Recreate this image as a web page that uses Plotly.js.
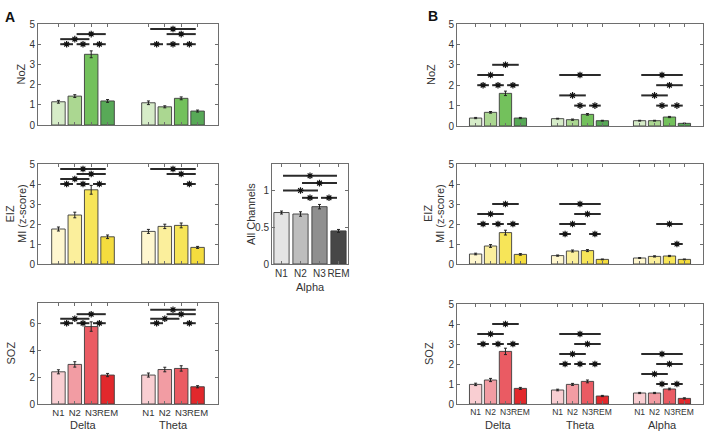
<!DOCTYPE html>
<html>
<head>
<meta charset="utf-8">
<script src="https://cdn.plot.ly/plotly-3.0.1.min.js"></script>
<style>html,body{margin:0;padding:0;background:#fff;}#chart{width:708px;height:433px;}</style>
</head>
<body>
<div id="chart"></div>
<script>
// ---------- DATA ----------
const STAGES = ["N1", "N2", "N3", "REM"];
const A_BANDS = ["Delta", "Theta"];
const B_BANDS = ["Delta", "Theta", "Alpha"];

// Panel A (rows: band, cols: stage)
const aNoZ    = [[1.15, 1.43, 3.50, 1.19], [1.10, 0.90, 1.32, 0.69]];
const aNoZErr = [[0.07, 0.07, 0.17, 0.07], [0.09, 0.05, 0.07, 0.05]];
const aEIZ    = [[1.75, 2.45, 3.71, 1.36], [1.63, 1.88, 1.93, 0.83]];
const aEIZErr = [[0.10, 0.14, 0.22, 0.09], [0.10, 0.11, 0.12, 0.05]];
const aSOZ    = [[2.39, 2.94, 5.75, 2.15], [2.15, 2.56, 2.64, 1.28]];
const aSOZErr = [[0.15, 0.20, 0.35, 0.12], [0.15, 0.17, 0.20, 0.08]];

// All channels, alpha
const allAlpha    = [0.70, 0.68, 0.78, 0.45];
const allAlphaErr = [0.02, 0.03, 0.03, 0.02];

// Panel B
const bNoZ    = [[0.39, 0.67, 1.60, 0.39], [0.36, 0.31, 0.57, 0.26], [0.26, 0.26, 0.44, 0.13]];
const bNoZErr = [[0.03, 0.04, 0.11, 0.03], [0.02, 0.03, 0.04, 0.02], [0.02, 0.02, 0.03, 0.01]];
const bEIZ    = [[0.50, 0.90, 1.57, 0.48], [0.42, 0.65, 0.67, 0.23], [0.30, 0.38, 0.40, 0.23]];
const bEIZErr = [[0.04, 0.07, 0.12, 0.04], [0.03, 0.05, 0.05, 0.02], [0.02, 0.03, 0.03, 0.02]];
const bSOZ    = [[0.98, 1.20, 2.63, 0.78], [0.70, 0.98, 1.13, 0.40], [0.55, 0.55, 0.75, 0.28]];
const bSOZErr = [[0.06, 0.08, 0.16, 0.05], [0.04, 0.05, 0.07, 0.03], [0.03, 0.03, 0.04, 0.03]];

// Significance comparisons: [band, stageFrom, stageTo, level]
const aNoZSig = [[0,0,1,4],[0,1,2,4],[0,2,3,4],[0,0,2,4.25],[0,1,3,4.5],
                 [1,0,1,4],[1,1,2,4],[1,2,3,4],[1,1,3,4.5],[1,0,3,4.75]];
const aEIZSig = [[0,0,1,4],[0,1,2,4],[0,2,3,4],[0,0,2,4.25],[0,1,3,4.5],[0,0,3,4.75],
                 [1,2,3,4],[1,1,3,4.5],[1,0,3,4.75]];
const aSOZSig = [[0,0,1,6],[0,1,2,6],[0,2,3,6],[0,0,2,6.33],[0,1,3,6.67],
                 [1,0,1,6],[1,2,3,6],[1,0,2,6.33],[1,1,3,6.67],[1,0,3,7]];
const allSig  = [[0,1,2,0.9],[0,2,3,0.9],[0,0,2,1.0],[0,1,3,1.1],[0,0,3,1.2]];
const bNoZSig = [[0,0,1,2],[0,1,2,2],[0,2,3,2],[0,0,2,2.5],[0,1,3,3],
                 [1,1,2,1],[1,2,3,1],[1,0,2,1.5],[1,0,3,2.5],
                 [2,1,2,1],[2,2,3,1],[2,0,2,1.5],[2,1,3,2],[2,0,3,2.5]];
const bEIZSig = [[0,0,1,2],[0,1,2,2],[0,2,3,2],[0,0,2,2.5],[0,1,3,3],
                 [1,0,1,1.5],[1,2,3,1.5],[1,0,2,2],[1,1,3,2.5],[1,0,3,3],
                 [2,2,3,1],[2,1,3,2]];
const bSOZSig = [[0,0,1,3],[0,1,2,3],[0,2,3,3],[0,0,2,3.5],[0,1,3,4],
                 [1,0,1,2],[1,1,2,2],[1,2,3,2],[1,0,2,2.5],[1,1,3,3],[1,0,3,3.5],
                 [2,1,2,1],[2,2,3,1],[2,0,2,1.5],[2,1,3,2],[2,0,3,2.5]];

// ---------- STYLE ----------
const GREENS  = ["#d6ecc8", "#abd791", "#73c15c", "#58a957"];
const YELLOWS = ["#fff7cf", "#fbef9c", "#f7e558", "#f4dc3e"];
const REDS    = ["#f9ced2", "#f29ca3", "#ea5b63", "#e2282c"];
const GRAYS   = ["#e4e4e4", "#bdbdbd", "#8f8f8f", "#474747"];

const W = 708, H = 433;
function dx(a, b) { return [a / W, b / W]; }
function dy(top, bot) { return [1 - bot / H, 1 - top / H]; }

const SPACING = 0.182, BW = 0.15;
function grpPos(g, s) { return g + 1 + (s - 1.5) * SPACING; }
function singlePos(g, s) { return s + 1; }

const traces = [];
const layout = {
  width: W, height: H,
  margin: {l: 0, r: 0, t: 0, b: 0},
  paper_bgcolor: "#fff", plot_bgcolor: "#fff",
  showlegend: false,
  font: {family: "Liberation Sans, Arial, sans-serif", color: "#333"},
  annotations: [],
  bargap: 0
};

function axisBase() {
  return {
    showline: true, mirror: "ticks", linecolor: "#6e6e6e", linewidth: 1,
    ticks: "inside", ticklen: 3, tickcolor: "#6e6e6e",
    zeroline: false, showgrid: false, fixedrange: true,
    tickfont: {size: 10, color: "#333"}, tickangle: 0
  };
}

let axN = 0;
function addPanel(opt) {
  axN++;
  const xa = "x" + (axN === 1 ? "" : axN), ya = "y" + (axN === 1 ? "" : axN);
  const xk = "xaxis" + (axN === 1 ? "" : axN), yk = "yaxis" + (axN === 1 ? "" : axN);
  const nb = opt.bands.length;
  const pos = opt.single ? singlePos : grpPos;
  const bw = opt.single ? 0.8 : BW;
  const tv = [], tt = [];
  for (let g = 0; g < nb; g++) for (let s = 0; s < 4; s++) { tv.push(pos(g, s)); tt.push(STAGES[s]); }

  const x = axisBase();
  x.domain = dx(opt.x0, opt.x1);
  x.range = opt.single ? [0.5, 4.5] : [0.5, nb + 0.5];
  x.anchor = ya;
  x.tickvals = tv; x.ticktext = tt;
  x.showticklabels = !!opt.xlabels;
  x.tickfont = {size: opt.xfont || 10, color: "#333"};
  layout[xk] = x;

  const y = axisBase();
  y.domain = dy(opt.y0, opt.y1);
  y.range = [0, opt.ymax];
  y.anchor = xa;
  y.tickvals = opt.yticks;
  y.ticktext = opt.yticks.map(v => String(v));
  layout[yk] = y;

  for (let s = 0; s < 4; s++) {
    const xs = [], ys = [], es = [];
    for (let g = 0; g < nb; g++) {
      xs.push(pos(g, s));
      ys.push(opt.single ? opt.vals[s] : opt.vals[g][s]);
      es.push(opt.single ? opt.errs[s] : opt.errs[g][s]);
    }
    traces.push({
      type: "bar", x: xs, y: ys, width: bw, xaxis: xa, yaxis: ya,
      marker: {color: opt.colors[s], line: {color: "#3c3c3c", width: 0.9}},
      error_y: {type: "data", array: es, visible: true, color: "#222", thickness: 1, width: 1.5},
      hoverinfo: "skip"
    });
  }

  // significance lines and asterisks
  const lx = [], ly = [], sx = [], sy = [];
  const shrink = opt.single ? 0.08 : 0.02;
  opt.sig.forEach(([g, a, b, lev]) => {
    const xa0 = pos(g, a) + shrink, xb0 = pos(g, b) - shrink;
    lx.push(xa0, xb0, null); ly.push(lev, lev, null);
    sx.push((pos(g, a) + pos(g, b)) / 2); sy.push(lev);
  });
  traces.push({type: "scatter", mode: "lines", x: lx, y: ly, xaxis: xa, yaxis: ya,
    line: {color: "#2a2a2a", width: 2}, hoverinfo: "skip", cliponaxis: false});
  traces.push({type: "scatter", mode: "markers", x: sx, y: sy, xaxis: xa, yaxis: ya,
    marker: {symbol: "asterisk-open", size: 5.5, color: "#111", line: {color: "#111", width: 1.2}},
    hoverinfo: "skip", cliponaxis: false});

  // y titles
  opt.ytitles.forEach(t => {
    layout.annotations.push({text: t.text, x: t.x / W, y: 1 - ((opt.y0 + opt.y1) / 2) / H,
      xref: "paper", yref: "paper", textangle: -90, showarrow: false,
      xanchor: "center", yanchor: "middle", font: {size: 11, color: "#333"}});
  });
  // group labels
  if (opt.groupY) {
    for (let g = 0; g < nb; g++) {
      const cx = opt.single ? 2.5 : g + 1;
      layout.annotations.push({text: opt.bands[g], x: cx, xref: xa, y: 1 - opt.groupY / H, yref: "paper",
        showarrow: false, xanchor: "center", yanchor: "middle", font: {size: 11, color: "#333"}});
    }
  }
}

// Panel A
addPanel({bands: A_BANDS, vals: aNoZ, errs: aNoZErr, sig: aNoZSig, colors: GREENS,
  x0: 38, x1: 218, y0: 24, y1: 125, ymax: 5, yticks: [0,1,2,3,4,5],
  ytitles: [{text: "NoZ", x: 21}]});
addPanel({bands: A_BANDS, vals: aEIZ, errs: aEIZErr, sig: aEIZSig, colors: YELLOWS,
  x0: 38, x1: 218, y0: 164, y1: 264, ymax: 5, yticks: [0,1,2,3,4,5],
  ytitles: [{text: "EIZ", x: 9.5}, {text: "MI (z-score)", x: 22}]});
addPanel({bands: A_BANDS, vals: aSOZ, errs: aSOZErr, sig: aSOZSig, colors: REDS,
  x0: 38, x1: 218, y0: 303, y1: 404, ymax: 7.5, yticks: [0,2,4,6],
  ytitles: [{text: "SOZ", x: 10}], xlabels: true, xfont: 9.5, groupY: 425});
addPanel({bands: ["Alpha"], single: true, vals: allAlpha, errs: allAlphaErr, sig: allSig, colors: GRAYS,
  x0: 272, x1: 348, y0: 164, y1: 264, ymax: 1.36, yticks: [0, 0.5, 1],
  ytitles: [{text: "All Channels", x: 251}], xlabels: true, xfont: 10, groupY: 287});
// Panel B
addPanel({bands: B_BANDS, vals: bNoZ, errs: bNoZErr, sig: bNoZSig, colors: GREENS,
  x0: 457, x1: 703, y0: 24, y1: 126, ymax: 5, yticks: [0,1,2,3,4,5],
  ytitles: [{text: "NoZ", x: 431}]});
addPanel({bands: B_BANDS, vals: bEIZ, errs: bEIZErr, sig: bEIZSig, colors: YELLOWS,
  x0: 457, x1: 703, y0: 164, y1: 264, ymax: 5, yticks: [0,1,2,3,4,5],
  ytitles: [{text: "EIZ", x: 428}, {text: "MI (z-score)", x: 440}]});
addPanel({bands: B_BANDS, vals: bSOZ, errs: bSOZErr, sig: bSOZSig, colors: REDS,
  x0: 457, x1: 703, y0: 304, y1: 404, ymax: 5, yticks: [0,1,2,3,4,5],
  ytitles: [{text: "SOZ", x: 429}], xlabels: true, xfont: 8.5, groupY: 425});

// Panel letters
layout.annotations.push({text: "<b>A</b>", x: 10 / W, y: 1 - 17 / H, xref: "paper", yref: "paper",
  showarrow: false, xanchor: "center", yanchor: "middle", font: {size: 14, color: "#111"}});
layout.annotations.push({text: "<b>B</b>", x: 433 / W, y: 1 - 16 / H, xref: "paper", yref: "paper",
  showarrow: false, xanchor: "center", yanchor: "middle", font: {size: 14, color: "#111"}});

Plotly.newPlot("chart", traces, layout, {staticPlot: true, displayModeBar: false});
</script>
</body>
</html>
